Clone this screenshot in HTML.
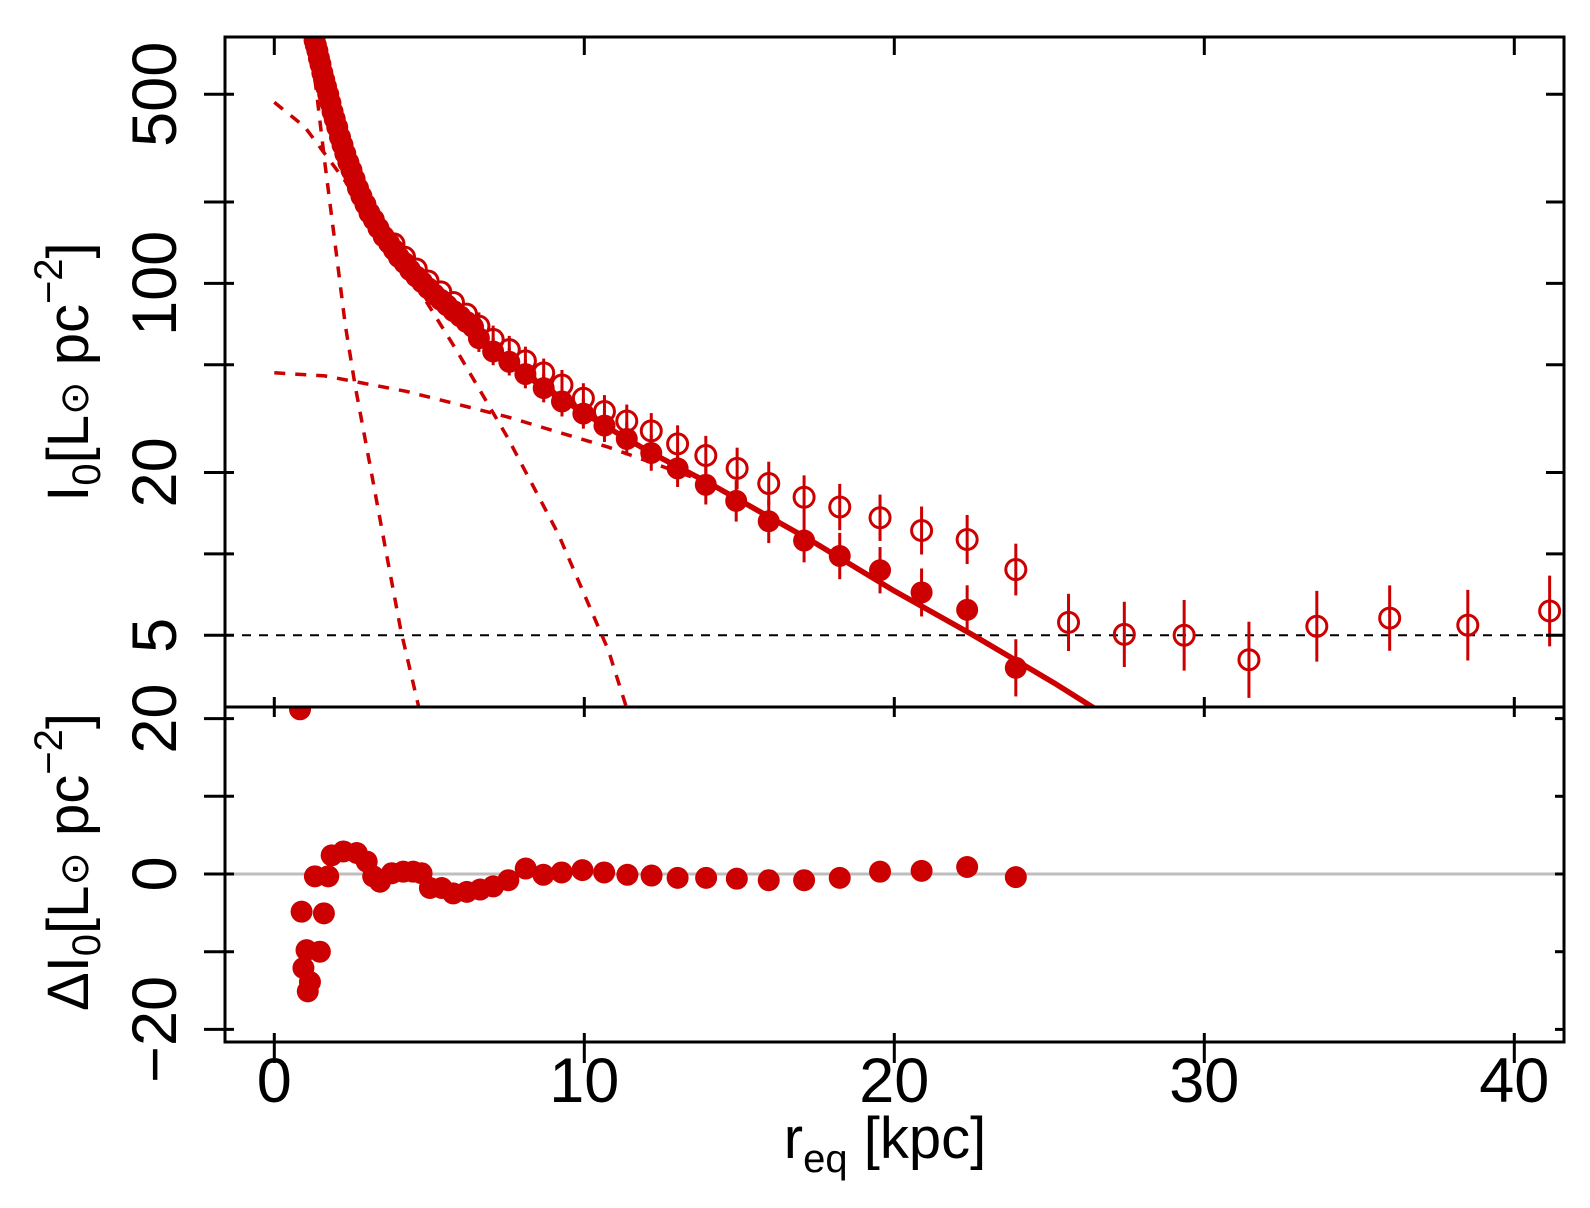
<!DOCTYPE html>
<html><head><meta charset="utf-8"><style>
html,body{margin:0;padding:0;background:#fff;}
svg{display:block;font-family:"Liberation Sans",sans-serif;}
</style></head><body>
<svg id="chart" width="1590" height="1208" xmlns="http://www.w3.org/2000/svg">
<defs>
<clipPath id="cu"><rect x="225" y="37" width="1339" height="670"/></clipPath>
<clipPath id="cl"><rect x="225" y="707" width="1339" height="335"/></clipPath>
</defs>
<g id="upper" clip-path="url(#cu)"></g>
<g id="lower" clip-path="url(#cl)"></g>
<g id="axes"></g>
<text transform="translate(88,372) rotate(-90)" text-anchor="middle" font-size="58">I<tspan font-size="40" dy="12">0</tspan><tspan dy="-12">[L</tspan><tspan font-size="40">⊙</tspan> pc<tspan font-size="40" dy="-26">−2</tspan><tspan dy="26">]</tspan></text>
<text transform="translate(88,862) rotate(-90)" text-anchor="middle" font-size="58">ΔI<tspan font-size="40" dy="12">0</tspan><tspan dy="-12">[L</tspan><tspan font-size="40">⊙</tspan> pc<tspan font-size="40" dy="-26">−2</tspan><tspan dy="26">]</tspan></text>
<text x="885" y="1158" text-anchor="middle" font-size="58">r<tspan font-size="40" dy="14">eq</tspan><tspan dy="-14"> [kpc]</tspan></text>
</svg>
<script>
const fillR=[1.30,1.34,1.39,1.44,1.49,1.55,1.61,1.67,1.74,1.81,1.88,1.95,2.03,2.12,2.20,2.29,2.39,2.49,2.59,2.70,2.81,2.94,3.07,3.21,3.36,3.53,3.70,3.86,4.02,4.20,4.38,4.58,4.77,4.96,5.16,5.37,5.57,5.78,6.00,6.20,6.41,6.60,7.06,7.58,8.10,8.69,9.28,9.97,10.65,11.37,12.16,13.01,13.92,14.90,15.95,17.09,18.24,19.54,20.88,22.35,23.92];
const fillI=[791,760,725,680,645,600,565,533,500,465,431,405,378,347,325,302,280,262,243,225,210,196,182,172,160,149,141,133,125,119,112,106,101,96,91,87,83,79,75.5,72,69,62.7,56.0,51.3,46.2,41.0,36.6,33.0,29.8,26.6,23.6,20.7,18.0,15.7,13.2,11.2,9.82,8.70,7.20,6.21,3.79];
const fillErr=[0,0,0,0,0,0,0,0,0,0,0,0,0,0,0,0,0,0,0,0,0,0,0,0,0,0,0,0,0,0,0,0,0,0,0,0,0,0,0,0,0,0.01,0.01,0.01,0.012,0.012,0.015,0.015,0.02,0.02,0.025,0.028,0.032,0.036,0.04,0.04,0.045,0.045,0.048,0.05,0.065];
const openR=[3.86,4.20,4.58,4.96,5.37,5.78,6.20,6.60,7.06,7.58,8.10,8.69,9.28,9.97,10.65,11.37,12.16,13.01,13.92,14.93,15.95,17.09,18.24,19.54,20.88,22.35,23.92,25.62,27.42,29.35,31.44,33.63,35.98,38.50,41.14];
const openI=[140,125,113,102,93,85,77,69.5,62.1,56.9,51.7,46.7,42.1,37.6,33.6,31.0,28.5,25.5,23.1,20.7,18.2,16.2,14.9,13.6,12.2,11.3,8.75,5.58,5.04,5.00,4.06,5.40,5.79,5.45,6.15];
const openErr=[0,0,0,0,0,0,0,0.01,0.01,0.01,0.012,0.012,0.015,0.015,0.02,0.02,0.025,0.028,0.032,0.036,0.04,0.04,0.045,0.045,0.048,0.05,0.055,0.065,0.08,0.09,0.1,0.09,0.08,0.09,0.09];
const fitR=[1.30,1.67,2.12,2.70,3.53,4.58,5.78,7.06,8.69,10.65,12.16,14.05,17.32,19.93,22.55,25.16,26.47,28];
const fitI=[791,533,347,225,149,106,79,56,41,29.8,23.6,18.2,11.2,7.38,5.0,3.33,2.68,2.2];
const compAR=[1.14,1.37,1.63,1.96,2.29,2.61,3.10,3.59,4.08,4.67,5.0];
const compAI=[813,500,280,140,70.1,41.7,20.9,10.4,5.22,2.68,2.0];
const compBR=[0,0.98,1.96,2.94,4.25,5.88,7.52,9.15,10.78,11.37,11.8];
const compBI=[467,379,268,190,113,56.5,27.0,11.9,4.39,2.68,2.0];
const compCR=[0,1.63,4.25,7.52,10.78,14.05,17.32,19.93,22.55,25.16,26.47,28];
const compCI=[46.7,45.5,39.9,32.1,24.8,18.2,11.2,7.38,5.0,3.33,2.68,2.2];
const resR=[0.83,0.88,1.60,1.04,1.47,0.94,1.15,1.08,1.31,1.74,1.85,2.23,2.66,2.98,3.19,3.41,3.79,4.16,4.48,4.75,5.02,5.40,5.77,6.21,6.64,7.06,7.55,8.11,8.68,9.27,9.94,10.64,11.39,12.17,13.01,13.93,14.92,15.95,17.09,18.24,19.54,20.88,22.35,23.92];
const resV=[21.2,-4.85,-5.06,-9.8,-10.0,-12.1,-13.9,-15.1,-0.3,-0.3,2.4,2.9,2.7,1.6,-0.3,-1.0,0.1,0.3,0.3,0.1,-1.8,-1.8,-2.5,-2.3,-2.0,-1.6,-0.8,0.7,-0.1,0.2,0.5,0.2,-0.1,-0.2,-0.5,-0.5,-0.6,-0.8,-0.8,-0.5,0.3,0.4,0.9,-0.4];
const xTicks=[0,10,20,30,40];
const yTicksUpper=[5,20,100,500];
const yMinorUpper=[10,50,200];
const yTicksLower=[-20,0,20];
const yMinorLower=[-10,10];
const skyLevel=5;

const RED='#cc0000', NS='http://www.w3.org/2000/svg';
const X=r=>274.3+31.0*r;
const YU=v=>94.3+(Math.log10(500)-Math.log10(v))*270.5;
const YL=v=>874-v*7.77;
function mk(tag,attrs,parent){const e=document.createElementNS(NS,tag);for(const k in attrs)e.setAttribute(k,attrs[k]);parent.appendChild(e);return e;}
const up=document.getElementById('upper'),lo=document.getElementById('lower'),ax=document.getElementById('axes');

let e=mk('line',{x1:225,x2:1564,y1:YU(skyLevel),y2:YU(skyLevel),stroke:'#000','stroke-width':2,'stroke-dasharray':'9,8'},up);



function poly(R,I,name,dash,w){
  const d=R.map((r,i)=>(i?'L':'M')+X(r).toFixed(1)+','+YU(I[i]).toFixed(1)).join('');
  const p=mk('path',{d:d,fill:'none',stroke:RED,'stroke-width':w},up);
  if(dash)p.setAttribute('stroke-dasharray',dash);
  
  
}
poly(compAR,compAI,'bulge-component','11,10',3.5);
poly(compBR,compBI,'inner-component','11,10',3.5);
poly(compCR,compCI,'disk-component','11,10',3.5);
poly(fitR,fitI,'total-fit-line',null,5.5);

openR.forEach((r,i)=>{
  const x=X(r),y=YU(openI[i]),d=openErr[i]*270.5;
  if(d>0){const l=mk('line',{x1:x,x2:x,y1:y-d-11,y2:y+d+11,stroke:RED,'stroke-width':3},up);
  
  }
  const c=mk('circle',{cx:x,cy:y,r:10,fill:'none',stroke:RED,'stroke-width':3},up);
  
  
});
fillR.forEach((r,i)=>{
  const x=X(r),y=YU(fillI[i]),d=fillErr[i]*270.5;
  if(d>0){const l=mk('line',{x1:x,x2:x,y1:y-d-11,y2:y+d+11,stroke:RED,'stroke-width':3},up);
  
  }
  const c=mk('circle',{cx:x,cy:y,r:11,fill:RED},up);
  
  
});

e=mk('line',{x1:225,x2:1564,y1:YL(0),y2:YL(0),stroke:'#bebebe','stroke-width':3},lo);


resR.forEach((r,i)=>{
  const c=mk('circle',{cx:X(r),cy:YL(resV[i]),r:11,fill:RED},lo);
  
  
});

e=mk('rect',{x:225,y:37,width:1339,height:670,fill:'none',stroke:'#000','stroke-width':3},ax);


e=mk('rect',{x:225,y:707,width:1339,height:335,fill:'none',stroke:'#000','stroke-width':3},ax);



function tk(x1,y1,x2,y2){const l=mk('line',{x1,y1,x2,y2,stroke:'#000','stroke-width':3},ax);

}
function lab(x,y,t,rot){const s=mk('text',{'font-size':63,'text-anchor':'middle',transform:rot?`translate(${x},${y}) rotate(-90)`:`translate(${x},${y})`},ax);s.textContent=t;

}

xTicks.forEach(v=>{const x=X(v);
  tk(x,1033,x,1063); tk(x,697,x,717); tk(x,37,x,55);
  lab(x,1102,String(v).replace('-','−'),false);
});
yTicksUpper.forEach(v=>{const y=YU(v);tk(204,y,234,y);tk(1546,y,1564,y);lab(176,y,String(v),true);});
yMinorUpper.forEach(v=>{const y=YU(v);tk(204,y,234,y);tk(1546,y,1564,y);});
yTicksLower.forEach(v=>{const y=YL(v);tk(204,y,234,y);tk(1555,y,1564,y);lab(176,y,String(v).replace('-','−'),true);});
yMinorLower.forEach(v=>{const y=YL(v);tk(204,y,234,y);tk(1555,y,1564,y);});
</script>
</body></html>
